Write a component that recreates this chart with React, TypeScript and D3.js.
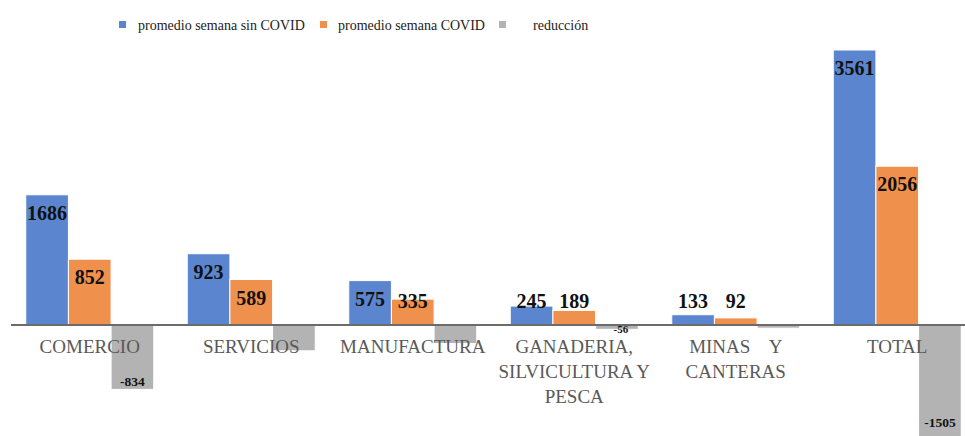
import React, { useEffect, useRef } from 'react';
import * as d3 from 'd3';

const categories = ['COMERCIO', 'SERVICIOS', 'MANUFACTURA', 'GANADERIA', 'MINAS', 'TOTAL'];
const categoryLines = [
    ['COMERCIO'],
    ['SERVICIOS'],
    ['MANUFACTURA'],
    ['GANADERIA,', 'SILVICULTURA Y', 'PESCA'],
    ['MINAS    Y', 'CANTERAS'],
    ['TOTAL']
];
const seriesNames = ['promedio semana sin COVID', 'promedio semana COVID', 'reducción'];
const sinCovid = [1686, 923, 575, 245, 133, 3561];
const conCovid = [852, 589, 335, 189, 92, 2056];
const reduccion = [-834, -334, -240, -56, -41, -1505];
// only these reduction labels are visible in the original
const reduccionLabelShown = [true, false, false, true, false, true];

const colors = ['#5b86cf', '#f0904d', '#b3b3b3'];

const width = 965;
const height = 436;

const App: React.FC = () => {
    const svgRef = useRef<SVGSVGElement>(null);

    useEffect(() => {
        if (!svgRef.current) return;
        const svg = d3.select(svgRef.current);
        svg.selectAll('*').remove();

        const baseline = 325;
        const font = '"Liberation Serif", "Times New Roman", serif';

        const x0 = d3.scaleBand<string>().domain(categories).range([9, 978]);
        const x1 = d3.scaleBand<string>()
            .domain(seriesNames)
            .range([16.75, x0.bandwidth() - 16.75]);
        const y = d3.scaleLinear().domain([0, 3561]).range([baseline, 50]);

        const series = [sinCovid, conCovid, reduccion];
        const barCenter = (i: number, name: string) =>
            (x0(categories[i]) ?? 0) + (x1(name) ?? 0) + x1.bandwidth() / 2;

        // Bars
        series.forEach((vals, si) => {
            const name = seriesNames[si];
            svg.append('g')
                .selectAll('rect')
                .data(vals)
                .enter()
                .append('rect')
                .attr('x', (_, i) => (x0(categories[i]) ?? 0) + (x1(name) ?? 0))
                .attr('y', d => Math.min(y(d), y(0)))
                .attr('width', x1.bandwidth())
                .attr('height', d => Math.abs(y(d) - y(0)))
                .attr('fill', colors[si])
                .attr('stroke', '#ffffff')
                .attr('stroke-width', 1);
        });

        // Axis line
        svg.append('line')
            .attr('x1', 11)
            .attr('x2', width)
            .attr('y1', baseline)
            .attr('y2', baseline)
            .attr('stroke', '#6b6b6b')
            .attr('stroke-width', 2);

        // Positive value labels
        [sinCovid, conCovid].forEach((vals, si) => {
            const name = seriesNames[si];
            svg.append('g')
                .selectAll('text')
                .data(vals)
                .enter()
                .append('text')
                .attr('x', (_, i) => barCenter(i, name))
                .attr('y', d => Math.min(y(d) + 25, baseline - 17))
                .attr('text-anchor', 'middle')
                .style('font-family', font)
                .style('font-weight', 'bold')
                .style('font-size', '20px')
                .style('fill', '#111')
                .text(d => d);
        });

        // Reduction labels
        const redName = seriesNames[2];
        const redLabels = reduccion
            .map((v, i) => ({ v, i }))
            .filter(d => reduccionLabelShown[d.i]);
        const small = (v: number) => y(v) - baseline < 20;
        svg.append('g')
            .selectAll('text')
            .data(redLabels)
            .enter()
            .append('text')
            .attr('x', d => barCenter(d.i, redName) + (small(d.v) ? 4 : 0))
            .attr('y', d => {
                const bottom = y(d.v);
                return small(d.v) ? bottom + 3.5 : Math.min(bottom - 3, 427);
            })
            .attr('text-anchor', 'middle')
            .style('font-family', font)
            .style('font-weight', 'bold')
            .style('font-size', d => (small(d.v) ? '11px' : '13.5px'))
            .style('fill', '#111')
            .text(d => d.v);

        // Category labels
        const catG = svg.append('g');
        categories.forEach((c, i) => {
            const cx = (x0(c) ?? 0) + x0.bandwidth() / 2;
            const t = catG.append('text')
                .attr('x', cx)
                .attr('y', 353)
                .attr('text-anchor', 'middle')
                .attr('xml:space', 'preserve')
                .style('white-space', 'pre')
                .style('font-family', font)
                .style('font-size', '19px')
                .style('fill', '#595959');
            categoryLines[i].forEach((line, li) => {
                t.append('tspan')
                    .attr('x', cx)
                    .attr('dy', li === 0 ? 0 : 25)
                    .text(line);
            });
        });

        // Legend
        const legendItems = [
            { sq: 119, tx: 138 },
            { sq: 320, tx: 338 },
            { sq: 499, tx: 533 }
        ];
        const leg = svg.append('g');
        seriesNames.forEach((n, i) => {
            leg.append('rect')
                .attr('x', legendItems[i].sq)
                .attr('y', 21)
                .attr('width', 7)
                .attr('height', 7)
                .attr('fill', colors[i]);
            leg.append('text')
                .attr('x', legendItems[i].tx)
                .attr('y', 30)
                .style('font-family', font)
                .style('font-size', '14px')
                .style('fill', '#222')
                .text(n);
        });
    }, []);

    return (
        <svg
            ref={svgRef}
            width={width}
            height={height}
            style={{ position: 'absolute', left: 0, top: 0, background: '#ffffff' }}
        />
    );
};

export default App;
